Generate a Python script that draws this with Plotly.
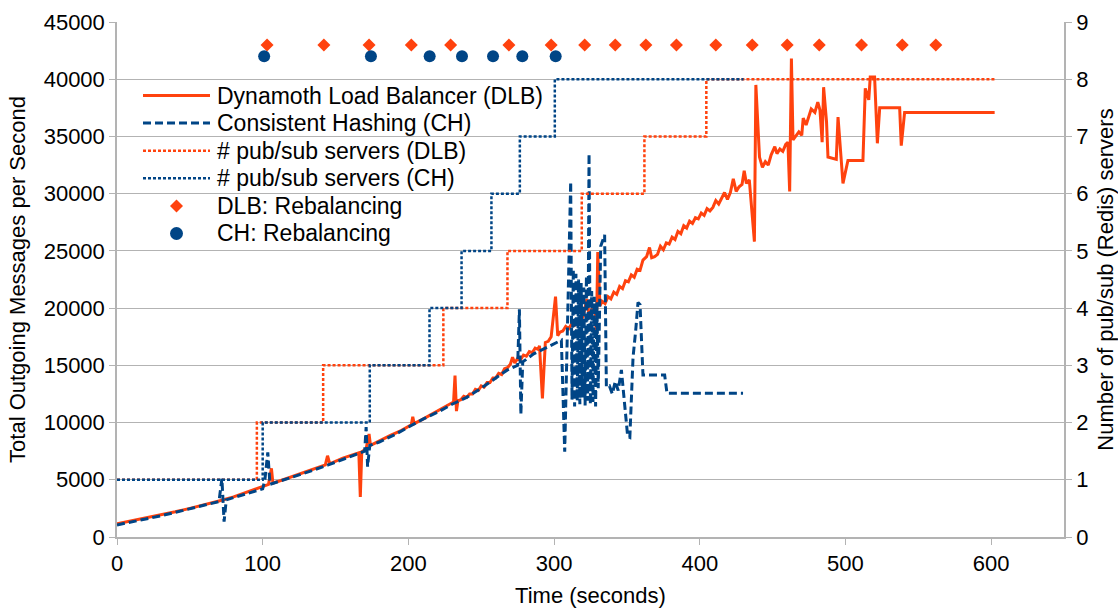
import plotly.graph_objects as go

# ---------------- data ----------------
dlb_t = [0, 10, 20, 30, 40, 50, 60, 70, 80, 90, 96, 100, 104, 106, 107, 115, 125, 135, 143, 144.5, 146,
         155, 162, 166, 167, 168, 171, 173, 174, 180, 188, 195, 202, 203, 204, 210, 218, 225, 231, 232,
         233, 234, 236, 238, 240, 242, 244, 246, 248, 250, 252, 254, 256, 258, 260, 262, 264, 266, 268,
         270, 271.5, 273, 275, 277, 279, 281, 283, 285, 287, 289, 290, 292, 294, 296, 298, 301, 302.5,
         304, 306, 308, 310, 312, 314, 316, 318, 320, 322.5, 324, 326, 328, 329, 330, 331.5, 333, 335,
         337, 339, 341, 343, 345, 347, 349, 351, 353, 355, 357, 359, 361, 363.5, 365.5, 367, 369, 371,
         373, 375, 377, 379, 381, 383, 385, 387, 389, 391, 393, 395, 397, 399, 401, 403, 405, 407, 409,
         411, 413, 415, 417, 419, 421, 423, 425, 427, 429, 430.5, 432, 434, 437.5, 438.5, 441, 443, 445,
         447, 449, 451.5, 453, 455, 457, 459, 460.5, 461.7, 462.9, 464, 466, 468, 470, 471, 473, 474,
         476.5, 479, 481, 482.5, 484, 485, 487, 488, 493.7, 494.9, 498.3, 501.7, 512, 513.6, 516, 517,
         520, 521.9, 523.5, 537.2, 538.3, 540.6, 602.4]
dlb_v = [1150, 1400, 1650, 1900, 2200, 2500, 2800, 3150, 3500, 3950, 4200, 4400, 4600, 6000, 4700, 5050,
         5500, 5950, 6300, 7100, 6400, 6900, 7200, 7350, 3500, 7450, 7700, 9000, 8000, 8400, 8900, 9300,
         9800, 10500, 9900, 10300, 10900, 11400, 11800, 14100, 11000, 11900, 12000, 12300, 12200, 12500,
         12500, 12900, 12800, 13200, 13100, 13500, 13500, 13900, 13900, 14300, 14200, 14700, 14800, 15100,
         15700, 15200, 15600, 15500, 15900, 15800, 16200, 16100, 16500, 16400, 16700, 12100, 17000, 17100,
         17500, 21000, 17600, 17900, 18000, 18400, 18200, 18600, 18500, 18900, 18800, 19300, 20800, 19400,
         19900, 20000, 17600, 24900, 20200, 20600, 20400, 21000, 20800, 21400, 21200, 21900, 21700, 22400,
         22300, 22900, 22700, 23400, 23300, 24200, 24500, 25300, 24400, 24500, 24700, 25400, 25100, 25700,
         25600, 26200, 26000, 26700, 26500, 27200, 27000, 27600, 27400, 27900, 27800, 28300, 28100, 28700,
         28500, 28800, 29400, 29100, 29600, 30100, 29500, 30100, 31300, 30200, 30600, 30800, 32000, 30900,
         31200, 25800, 39500, 33200, 32300, 32800, 32500, 33400, 34100, 33500, 33900, 33700, 34300, 34500,
         30200, 41800, 34700, 35000, 35400, 35100, 36600, 36000, 36400, 37400, 37100, 38000, 37300, 34500,
         39300, 36300, 33200, 33000, 36700, 30900, 32900, 32900, 39200, 38200, 40200, 40200, 34400, 37500,
         37500, 34200, 37100, 37100]

ch_t = [0, 10, 20, 30, 40, 50, 60, 70, 72, 73.5, 75, 85, 95, 100, 101.5, 103.5, 105, 115, 125, 135, 145,
        155, 165, 170, 171, 172, 173.5, 180, 190, 200, 210, 220, 230, 240, 250, 260, 268, 275, 276.2,
        277.2, 278.5, 286, 296, 305, 307.3, 311.4, 312.3, 313.2, 314.1, 315, 315.9, 316.8, 317.7, 318.6,
        319.5, 320.4, 321.3, 322.2, 323.1, 324, 324.9, 325.8, 326.7, 327.6, 328.5, 329.4, 330.3, 332,
        334.7, 335.9, 338, 340, 342, 344, 346.2, 348, 350.5, 352, 354.2, 356, 357.6, 359, 361, 375.9,
        377.5, 429.7]
ch_v = [1050, 1300, 1550, 1850, 2150, 2450, 2750, 3100, 5100, 1350, 3250, 3650, 4050, 4200, 5000, 7400,
        4600, 5000, 5400, 5850, 6300, 6800, 7250, 7500, 9600, 6150, 8000, 8300, 8900, 9600, 10300, 10900,
        11600, 12200, 13000, 13900, 14600, 15000, 19900, 10700, 15300, 16000, 16600, 17200, 7450, 31050,
        12000, 23400, 11400, 23000, 11900, 22500, 11600, 22200, 12200, 21800, 11500, 22800, 11900, 33500,
        11600, 21500, 11800, 21000, 11400, 20500, 13000, 25400, 26400, 13100, 13200, 12500, 13600, 12800,
        14600, 12000, 8800, 8700, 15700, 18000, 20500, 20300, 14150, 14150, 12550, 12550]

dlb_srv_t = [0, 96, 141.5, 224, 268, 319, 362, 404.5, 603]
dlb_srv_n = [1, 2, 3, 4, 5, 6, 7, 8, 8]
ch_srv_t = [0, 100, 173.5, 214.5, 236.5, 257, 276.5, 300.5, 430]
ch_srv_n = [1, 2, 3, 4, 5, 6, 7, 8, 8]

dlb_reb_t = [103, 142, 173, 202, 229, 269, 298, 321, 342, 363, 384, 411, 436, 460, 482, 511, 539, 562]
dlb_reb_level = 43000
ch_reb_t = [101, 174.3, 214.6, 236.8, 258.1, 278.2, 301.1]
ch_reb_level = 42000

series_names = ["Dynamoth Load Balancer (DLB)", "Consistent Hashing (CH)", "# pub/sub servers (DLB)",
                "# pub/sub servers (CH)", "DLB: Rebalancing", "CH: Rebalancing"]

x_ticks = [0, 100, 200, 300, 400, 500, 600]
y_ticks = list(range(0, 45001, 5000))
y2_ticks = list(range(0, 10))

# ---------------- style ----------------
W, H = 1118, 608
ML, MR, MT, MB = 117, 54, 22, 71
PW, PH = W - ML - MR, H - MT - MB
ORANGE = "#ff420e"
BLUE = "#004586"
GRID = "#b3b3b3"
FONT = "Liberation Sans, Arial, sans-serif"
TITLE_FONT = dict(family=FONT, size=22, color="#000000")

line_styles = [dict(color=ORANGE, width=3),
               dict(color=BLUE, width=3, dash="8px,4px"),
               dict(color=ORANGE, width=2.5, dash="3px,2px"),
               dict(color=BLUE, width=2.5, dash="3px,2px")]

fig = go.Figure()

fig.add_trace(go.Scatter(x=dlb_t, y=dlb_v, mode="lines", name=series_names[0], line=line_styles[0]))
fig.add_trace(go.Scatter(x=ch_t, y=ch_v, mode="lines", name=series_names[1], line=line_styles[1]))
fig.add_trace(go.Scatter(x=dlb_srv_t, y=dlb_srv_n, mode="lines", name=series_names[2],
                         line=dict(line_styles[2], shape="hv"), yaxis="y2"))
fig.add_trace(go.Scatter(x=ch_srv_t, y=ch_srv_n, mode="lines", name=series_names[3],
                         line=dict(line_styles[3], shape="hv"), yaxis="y2"))
fig.add_trace(go.Scatter(x=dlb_reb_t, y=[dlb_reb_level] * len(dlb_reb_t), mode="markers",
                         name=series_names[4], marker=dict(symbol="diamond", size=10, color=ORANGE)))
fig.add_trace(go.Scatter(x=ch_reb_t, y=[ch_reb_level] * len(ch_reb_t), mode="markers",
                         name=series_names[5], marker=dict(symbol="circle", size=12, color=BLUE)))

# ---------------- legend (drawn in pixel layout, LibreOffice style) ----------------
LEG_X0, LEG_X1, LEG_TEXT_X = 143, 210, 215
LEG_ROW0, LEG_ROW_STEP = 95.5, 27.6


def px_x(p):
    return (p - ML) / PW


def px_y(p):
    return (H - MB - p) / PH


shapes = []
annotations = []
for i, name in enumerate(series_names):
    ry = LEG_ROW0 + i * LEG_ROW_STEP
    if i < 4:
        shapes.append(dict(type="line", xref="paper", yref="paper", x0=px_x(LEG_X0), x1=px_x(LEG_X1),
                           y0=px_y(ry), y1=px_y(ry), line=line_styles[i]))
    cx = (LEG_X0 + LEG_X1) / 2
    if i == 4:
        r = 6.5
        path = "M{},{} L{},{} L{},{} L{},{} Z".format(px_x(cx - r), px_y(ry), px_x(cx), px_y(ry - r),
                                                      px_x(cx + r), px_y(ry), px_x(cx), px_y(ry + r))
        shapes.append(dict(type="path", xref="paper", yref="paper", path=path,
                           fillcolor=ORANGE, line=dict(width=0)))
    if i == 5:
        r = 6.5
        shapes.append(dict(type="circle", xref="paper", yref="paper", x0=px_x(cx - r), x1=px_x(cx + r),
                           y0=px_y(ry + r), y1=px_y(ry - r), fillcolor=BLUE, line=dict(width=0)))
    annotations.append(dict(text=name, xref="paper", yref="paper", x=px_x(LEG_TEXT_X), y=px_y(ry),
                            xanchor="left", yanchor="middle", showarrow=False,
                            font=dict(family=FONT, size=23, color="#000000")))

fig.update_layout(
    width=W, height=H,
    margin=dict(l=ML, r=MR, t=MT, b=MB, autoexpand=False),
    paper_bgcolor="white", plot_bgcolor="white",
    font=dict(family=FONT, size=22, color="#000000"),
    showlegend=False,
    shapes=shapes,
    annotations=annotations,
    xaxis=dict(range=[0, 650], tickvals=x_ticks, showgrid=False, showline=True, linecolor=GRID,
               linewidth=1.5, ticks="outside", tickcolor=GRID, ticklen=6,
               tickfont=dict(family=FONT, size=22),
               title=dict(text="Time (seconds)", standoff=14, font=TITLE_FONT), zeroline=False),
    yaxis=dict(range=[0, 45000], tickvals=y_ticks, tickformat="d", showgrid=True, gridcolor=GRID,
               gridwidth=1, showline=True, linecolor=GRID, linewidth=1.5, ticks="outside",
               tickcolor=GRID, ticklen=6, zeroline=False, tickfont=dict(family=FONT, size=22),
               title=dict(text="Total Outgoing Messages per Second", standoff=12, font=TITLE_FONT)),
    yaxis2=dict(range=[0, 9], tickvals=y2_ticks, overlaying="y", side="right", showgrid=False,
                showline=True, linecolor=GRID, linewidth=1.5, ticks="outside", tickcolor=GRID,
                ticklen=6, zeroline=False, tickfont=dict(family=FONT, size=22),
                title=dict(text="Number of pub/sub (Redis) servers", standoff=10, font=TITLE_FONT)),
)

fig.write_html("out.html")
